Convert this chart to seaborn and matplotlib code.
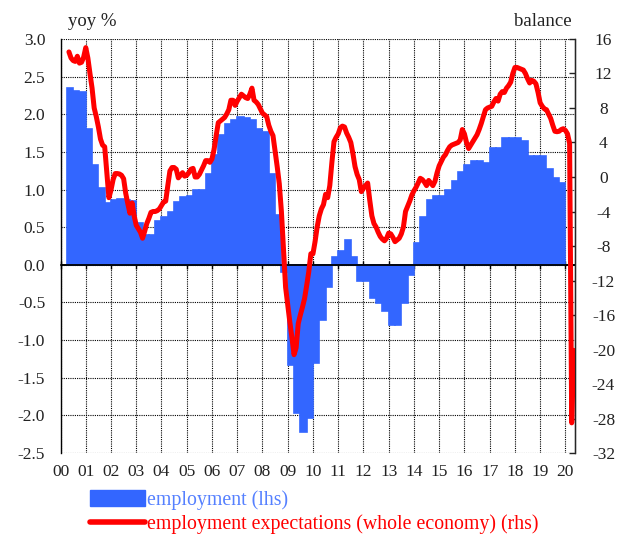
import numpy as np
import pandas as pd
import matplotlib
matplotlib.use("Agg")
import matplotlib.pyplot as plt
from matplotlib.patches import Patch
from matplotlib.lines import Line2D
import seaborn as sns

# employment, yoy % (lhs), quarterly from 2000Q1
employment = [
    2.35, 2.31, 2.29, 1.80,
    1.32, 1.02, 0.82, 0.86,
    0.87, 0.86, 0.85, 0.55,
    0.40, 0.40, 0.58, 0.64,
    0.70, 0.83, 0.90, 0.92,
    0.99, 1.00, 1.21, 1.46,
    1.73, 1.87, 1.93, 1.96,
    1.95, 1.93, 1.80, 1.77,
    1.21, 0.66, -0.10, -1.33,
    -1.97, -2.22, -2.04, -1.30,
    -0.73, -0.29, 0.11, 0.19,
    0.33, 0.11, -0.22, -0.22,
    -0.44, -0.51, -0.62, -0.80,
    -0.80, -0.51, -0.13, 0.29,
    0.64, 0.86, 0.92, 0.92,
    0.99, 1.11, 1.23, 1.33,
    1.38, 1.38, 1.35, 1.55,
    1.55, 1.68, 1.68, 1.68,
    1.64, 1.45, 1.45, 1.45,
    1.27, 1.15, 1.09,
]

# employment expectations (whole economy), balance (rhs), monthly from May 2000
expectations = [
    14.5, 13.8, 13.5, 13.4, 14.0, 13.2, 13.3, 13.9,
    15.0, 13.8, 12.0, 10.3, 8.0, 7.0, 5.8, 4.4, 3.7, 3.5, 0.5, -2.4,
    -1.5, -0.3, 0.4, 0.4, 0.35, 0.2, -0.2, -1.9, -3.1, -4.2, -3.0, -4.5,
    -5.6, -6.0, -6.4, -7.1, -6.3, -5.4, -4.8, -4.1, -4.0, -4.0, -3.9, -3.7,
    -3.3, -2.9, -2.8, -1.0, 0.7, 1.1, 1.1, 0.9, -0.1, 0.2, 0.5, 0.1,
    0.2, 0.5, 0.9, 1.0, 0.0, 0.0, 0.3, 0.8, 1.3, 1.9, 1.9, 1.7,
    2.1, 3.2, 4.8, 6.3, 6.5, 6.7, 6.9, 7.3, 7.8, 8.9, 8.9, 8.3,
    8.8, 9.2, 9.6, 9.4, 9.2, 9.1, 9.6, 10.3, 8.9, 8.7, 8.4, 7.9,
    7.4, 7.2, 7.0, 6.0, 5.3, 4.8, 3.0, 1.2, -0.8, -4.0, -8.5, -12.8,
    -14.8, -16.8, -18.6, -20.6, -19.8, -17.0, -16.0, -15.1, -14.1, -12.6, -11.0, -8.9,
    -8.9, -7.5, -5.8, -4.5, -3.7, -3.2, -2.0, -2.4, -1.0, 1.7, 4.1, 4.6,
    5.0, 5.7, 5.9, 5.8, 5.1, 4.6, 4.0, 2.7, 1.2, 0.3, -0.3, -1.7,
    -1.3, -1.0, -0.7, -2.7, -4.5, -5.4, -5.8, -6.4, -6.9, -7.2, -7.4, -7.1,
    -6.5, -6.6, -7.0, -7.5, -7.3, -7.1, -6.6, -5.8, -4.0, -3.4, -2.8, -2.1,
    -1.6, -1.2, -0.7, -0.15, -0.3, -0.6, -1.0, -0.4, -0.7, -1.0, -0.5, 0.5,
    1.3, 1.8, 2.3, 2.6, 3.1, 3.5, 3.7, 3.8, 3.9, 4.0, 4.3, 5.5,
    5.0, 4.0, 3.3, 3.7, 4.1, 4.5, 4.9, 5.5, 6.2, 7.0, 7.8, 8.0,
    8.1, 8.2, 8.7, 9.1, 8.8, 9.6, 9.9, 9.8, 10.3, 10.6, 11.0, 12.0,
    12.7, 12.7, 12.6, 12.5, 12.4, 12.0, 11.4, 10.9, 11.2, 11.1, 10.8, 9.8,
    8.6, 8.2, 7.9, 7.8, 7.3, 6.8, 6.0, 5.3, 5.25, 5.3, 5.5, 5.6,
    5.4, 5.0, 3.9, -28.5, -20.1,
]

left_ticks = np.arange(-2.5, 3.01, 0.5)
right_ticks = np.arange(-32, 17, 4)
years = list(range(2000, 2021))
year_labels = [f"{y % 100:02d}" for y in years]

BLUE = "#3366ff"
RED = "#ff0000"

quarters = pd.period_range("2000Q1", periods=len(employment), freq="Q")
q_x = np.asarray(quarters.year + quarters.quarter / 4, dtype=float)
months = pd.period_range("2000-05", periods=len(expectations), freq="M")
m_x = np.asarray(months.year + (months.month - 1) / 12, dtype=float)

sns.set_style("white")
plt.rcParams["font.family"] = ["Liberation Serif", "DejaVu Serif"]

fig = plt.figure(figsize=(6.35, 5.43), dpi=100)
ax = fig.add_axes([0.0953, 0.1657, 0.8102, 0.7625])

ax.bar(q_x, employment, width=0.25, align="edge", color=BLUE,
       edgecolor=BLUE, linewidth=1.2, zorder=2)
ax.axhline(0, color="black", linewidth=1.3, zorder=3)

ax.set_xlim(2000, 2020.38)
ax.set_ylim(-2.5, 3.0)
ax.set_xticks(years)
ax.set_xticklabels(year_labels)
ax.set_yticks(left_ticks)
ax.set_yticklabels([f"{v:.1f}" for v in left_ticks])
ax.grid(True, color="black", linestyle=(0, (1, 1)), linewidth=0.8)
ax.set_axisbelow(True)
ax.tick_params(axis="x", length=0, pad=8, labelsize=12.5, colors="#222222")
ax.tick_params(axis="y", length=0, pad=11, labelsize=12.5, colors="#222222")
for side in ["top", "bottom"]:
    ax.spines[side].set_visible(False)
for side in ["left", "right"]:
    ax.spines[side].set_color("black")
    ax.spines[side].set_linewidth(1.0)

# ticks along the zero line
zero_frac = (0 - ax.get_ylim()[0]) / (ax.get_ylim()[1] - ax.get_ylim()[0])
zax = ax.secondary_xaxis(zero_frac)
zax.set_xticks(years)
zax.set_xticklabels([])
zax.tick_params(direction="inout", length=6, width=1, color="black")
zax.spines["bottom"].set_linewidth(1.3)

ax2 = ax.twinx()
sns.lineplot(x=m_x, y=expectations, ax=ax2, color=RED, linewidth=3.6,
             legend=False, sort=False)
ax2.set_ylim(-32, 16)
ax2.set_yticks(right_ticks)
ax2.set_yticklabels([str(v) for v in right_ticks])
ax2.set_ylabel("")
ax2.tick_params(axis="y", direction="in", length=4, width=1, pad=20.5,
                labelsize=12.5, colors="#222222")
for lab in ax2.get_yticklabels():
    lab.set_horizontalalignment("center")
for side in ["top", "bottom", "left"]:
    ax2.spines[side].set_visible(False)

fig.text(68 / 635, 1 - 22 / 543, "yoy %", fontsize=13.5, color="#222222",
         ha="left", va="center")
fig.text(572 / 635, 1 - 22 / 543, "balance", fontsize=13.5, color="#222222",
         ha="right", va="center")

handles = [
    Patch(facecolor=BLUE, edgecolor=BLUE),
    Line2D([0], [0], color=RED, linewidth=4),
]
labels = ["employment (lhs)", "employment expectations (whole economy) (rhs)"]
fig.legend(handles, labels, loc="upper left",
           bbox_to_anchor=(90 / 635, 1 - 490 / 543), frameon=False,
           fontsize=14.3, handlelength=2.75, handleheight=0.85,
           handletextpad=0.12, labelspacing=0.22, borderaxespad=0,
           borderpad=0, labelcolor=["#5580ff", RED])

fig.savefig("out.png", dpi=100)
